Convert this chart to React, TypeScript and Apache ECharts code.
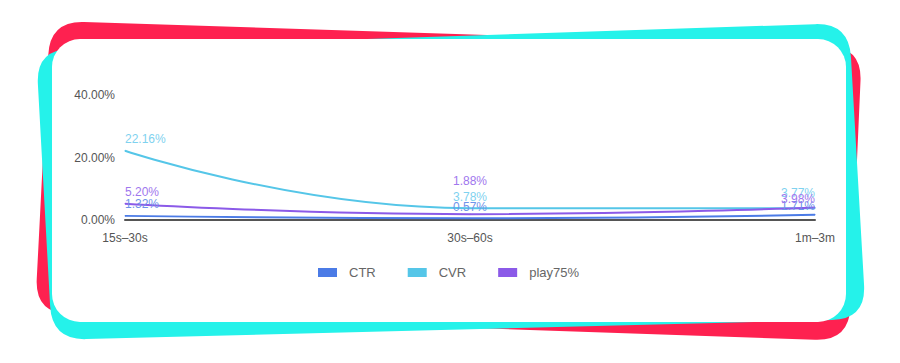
import React, { useEffect, useRef } from "react";
import * as echarts from "echarts";

const categories = ["15s–30s", "30s–60s", "1m–3m"];
const seriesNames = ["CTR", "CVR", "play75%"];
const ctrValues = [1.32, 0.57, 1.71];
const cvrValues = [22.16, 3.78, 3.77];
const play75Values = [5.2, 1.88, 3.98];
const yTicks = [0, 20, 40];

const lineColors = ["#4b7be6", "#55c6e8", "#8b5ae8"];
const labelColors = ["#6f93ea", "#7fd2ef", "#a077ee"];
const FONT = "'Liberation Sans', Arial, Helvetica, sans-serif";

type Pt = [number, number];
function roundedPoly(pts: Pt[], r: number): string {
  const n = pts.length;
  const unit = (a: Pt, b: Pt): Pt => {
    const dx = b[0] - a[0];
    const dy = b[1] - a[1];
    const l = Math.hypot(dx, dy);
    return [dx / l, dy / l];
  };
  const corners = pts.map((p, i) => {
    const prev = pts[(i - 1 + n) % n];
    const next = pts[(i + 1) % n];
    const up = unit(p, prev);
    const un = unit(p, next);
    const a: Pt = [p[0] + up[0] * r, p[1] + up[1] * r];
    const b: Pt = [p[0] + un[0] * r, p[1] + un[1] * r];
    return { p, a, b };
  });
  let d = `M${corners[0].b[0]},${corners[0].b[1]}`;
  for (let i = 1; i <= n; i++) {
    const c = corners[i % n];
    d += ` L${c.a[0]},${c.a[1]} Q${c.p[0]},${c.p[1]} ${c.b[0]},${c.b[1]}`;
  }
  return d + " Z";
}

const redPath = roundedPoly(
  [
    [50, 21],
    [862, 47],
    [849, 341],
    [35, 313],
  ],
  34
);
const cyanPath = roundedPoly(
  [
    [36, 50],
    [849, 23],
    [866, 319],
    [52, 340],
  ],
  34
);

let registered = false;
function registerShapes() {
  if (registered) return;
  registered = true;
  echarts.graphic.registerShape("redFrame", echarts.graphic.extendPath(redPath, {}) as any);
  echarts.graphic.registerShape("cyanFrame", echarts.graphic.extendPath(cyanPath, {}) as any);
}

export default function App() {
  const ref = useRef<HTMLDivElement>(null);
  useEffect(() => {
    document.body.style.margin = "0";
    registerShapes();
    if (!ref.current) return;
    const chart = echarts.init(ref.current, undefined, { renderer: "svg" });
    const values = [ctrValues, cvrValues, play75Values];
    const lastIdx = categories.length - 1;
    const labelShift: Record<string, number> = {
      "2-1": -22,
      "1-2": -4,
      "2-2": 3,
      "0-2": 3,
    };
    chart.setOption({
      animation: false,
      textStyle: { fontFamily: FONT },
      graphic: [
        { type: "redFrame", x: 0, y: 0, z: -10, z2: 1, silent: true, style: { fill: "#fe2150" } },
        { type: "cyanFrame", x: 0, y: 0, z: -10, z2: 2, silent: true, style: { fill: "#25f2ea" } },
        {
          type: "rect",
          z: -10,
          z2: 3,
          silent: true,
          shape: { x: 52, y: 39, width: 794, height: 283, r: 28 },
          style: { fill: "#ffffff" },
        },
      ],
      grid: { left: 125, right: 85, top: 95, bottom: 143, containLabel: false },
      legend: {
        data: seriesNames,
        top: 261,
        left: 313,
        icon: "rect",
        itemWidth: 19,
        itemHeight: 9,
        itemGap: 32,
        textStyle: { color: "#666", fontSize: 13, fontFamily: FONT, padding: [0, 0, 0, 7] },
      },
      xAxis: {
        type: "category",
        data: categories,
        boundaryGap: false,
        axisLine: { show: true, lineStyle: { color: "#555", width: 2 } },
        axisTick: { show: false },
        axisLabel: { color: "#555", fontSize: 12, margin: 12, fontFamily: FONT },
        splitLine: { show: false },
      },
      yAxis: {
        type: "value",
        min: yTicks[0],
        max: yTicks[yTicks.length - 1],
        interval: yTicks[1] - yTicks[0],
        axisLine: { show: false },
        axisTick: { show: false },
        splitLine: { show: false },
        axisLabel: {
          color: "#555",
          fontSize: 12,
          margin: 10,
          fontFamily: FONT,
          formatter: (v: number) => v.toFixed(2) + "%",
        },
      },
      labelLayout: (params: any) => {
        const dy = labelShift[`${params.seriesIndex}-${params.dataIndex}`];
        return dy ? { dy } : {};
      },
      series: seriesNames.map((name, si) => ({
        name,
        type: "line",
        smooth: true,
        symbol: "circle",
        symbolSize: 1,
        color: lineColors[si],
        lineStyle: { width: 2, color: lineColors[si] },
        itemStyle: { color: lineColors[si] },
        data: values[si].map((v, i) => ({
          value: v,
          label: {
            align: i === 0 ? "left" : i === lastIdx ? "right" : "center",
          },
        })),
        label: {
          show: true,
          position: "top",
          distance: 5,
          color: labelColors[si],
          fontSize: 12,
          fontFamily: FONT,
          formatter: (p: any) => Number(p.value).toFixed(2) + "%",
        },
      })),
    });
    return () => chart.dispose();
  }, []);
  return <div ref={ref} style={{ width: 900, height: 363 }} />;
}
